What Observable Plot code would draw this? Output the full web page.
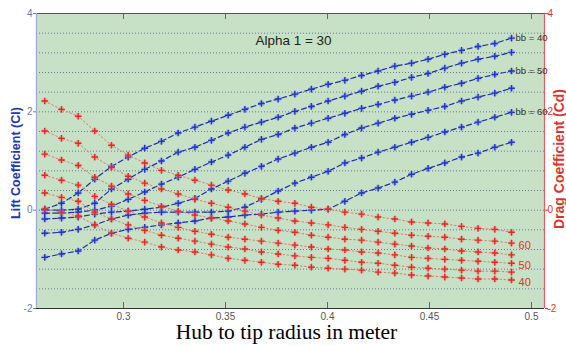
<!DOCTYPE html>
<html><head><meta charset="utf-8">
<script src="https://cdn.jsdelivr.net/npm/d3@7"></script>
<script src="https://cdn.jsdelivr.net/npm/@observablehq/plot@0.6"></script>
<style>
html,body{margin:0;padding:0;background:#fff;}
#chart svg{display:block;}
</style></head><body><div id="chart"></div>
<script>
// ---- data ----
const radius = [0.2614,0.2696,0.2778,0.2859,0.2941,0.3023,0.3104,0.3186,0.3268,0.3350,0.3431,0.3513,0.3595,0.3676,0.3758,0.3840,0.3921,0.4003,0.4085,0.4167,0.4248,0.4330,0.4412,0.4493,0.4575,0.4657,0.4738,0.4820,0.4902];
const bbValues = [40, 45, 50, 55, 60, 65];

const liftBb40 = [0.02,0.14,0.35,0.63,0.89,1.08,1.26,1.40,1.57,1.69,1.81,1.93,2.05,2.17,2.26,2.36,2.46,2.56,2.64,2.74,2.83,2.93,2.99,3.07,3.17,3.25,3.33,3.39,3.50];
const liftBb45 = [0.00,0.00,0.02,0.14,0.43,0.63,0.83,1.00,1.18,1.28,1.42,1.57,1.69,1.79,1.89,2.01,2.11,2.22,2.32,2.42,2.52,2.60,2.70,2.78,2.89,2.99,3.07,3.13,3.21];
const liftBb50 = [-0.06,-0.06,-0.04,0.00,0.08,0.22,0.37,0.53,0.67,0.83,0.98,1.12,1.28,1.44,1.54,1.67,1.77,1.87,1.97,2.07,2.15,2.24,2.32,2.40,2.50,2.58,2.68,2.76,2.83];
const liftBb55 = [-0.18,-0.16,-0.14,-0.08,-0.04,-0.02,0.02,0.06,0.14,0.24,0.43,0.59,0.75,0.89,1.04,1.16,1.28,1.38,1.54,1.67,1.77,1.87,1.95,2.03,2.11,2.22,2.30,2.38,2.48];
const liftBb60 = [-0.47,-0.45,-0.39,-0.30,-0.18,-0.10,-0.06,-0.04,-0.04,-0.04,-0.04,-0.02,0.06,0.22,0.39,0.55,0.67,0.79,0.96,1.06,1.18,1.28,1.38,1.48,1.59,1.69,1.79,1.89,1.99];
const liftBb65 = [-0.96,-0.89,-0.83,-0.61,-0.47,-0.39,-0.35,-0.30,-0.26,-0.22,-0.16,-0.14,-0.10,-0.08,-0.04,-0.02,0.00,0.02,0.18,0.35,0.45,0.57,0.73,0.85,0.96,1.08,1.16,1.28,1.38];

const dragBb40 = [0.02,-0.04,-0.12,-0.30,-0.47,-0.57,-0.65,-0.75,-0.81,-0.85,-0.91,-0.98,-1.02,-1.06,-1.10,-1.12,-1.16,-1.18,-1.20,-1.22,-1.26,-1.28,-1.32,-1.34,-1.36,-1.38,-1.40,-1.40,-1.42];
const dragBb45 = [0.35,0.26,0.18,-0.04,-0.18,-0.30,-0.41,-0.51,-0.57,-0.63,-0.69,-0.75,-0.79,-0.85,-0.89,-0.93,-0.96,-0.98,-1.02,-1.06,-1.08,-1.12,-1.16,-1.18,-1.20,-1.22,-1.24,-1.24,-1.26];
const dragBb50 = [0.71,0.61,0.51,0.28,0.12,-0.02,-0.14,-0.26,-0.35,-0.43,-0.49,-0.55,-0.59,-0.63,-0.67,-0.71,-0.75,-0.79,-0.81,-0.85,-0.87,-0.91,-0.96,-0.98,-1.00,-1.02,-1.04,-1.06,-1.08];
const dragBb55 = [1.14,1.02,0.91,0.67,0.49,0.33,0.20,0.08,-0.02,-0.10,-0.16,-0.22,-0.28,-0.35,-0.41,-0.45,-0.51,-0.55,-0.59,-0.61,-0.65,-0.69,-0.73,-0.77,-0.79,-0.83,-0.85,-0.87,-0.91];
const dragBb60 = [1.61,1.46,1.36,1.08,0.87,0.69,0.55,0.43,0.33,0.22,0.14,0.06,-0.02,-0.10,-0.16,-0.22,-0.26,-0.30,-0.35,-0.39,-0.43,-0.47,-0.51,-0.53,-0.55,-0.59,-0.61,-0.63,-0.67];
const dragBb65 = [2.22,2.05,1.91,1.61,1.32,1.12,0.96,0.81,0.71,0.61,0.51,0.41,0.33,0.24,0.18,0.14,0.06,0.02,-0.04,-0.08,-0.14,-0.18,-0.24,-0.26,-0.28,-0.33,-0.37,-0.39,-0.45];

const liftLabelBb = [40, 50, 60];
const liftLabelText = ["bb = 40", "bb = 50", "bb = 60"];
const dragLabelBb = [60, 50, 40];
const dragLabelText = ["60", "50", "40"];

const xTicks = [0.3, 0.35, 0.4, 0.45, 0.5];
const xTickLabels = ["0.3", "0.35", "0.4", "0.45", "0.5"];
const yTicks = [-2, 0, 2, 4];
const yTickLabels = ["-2", "0", "2", "4"];
const gridY = [-1.6, -1.2, -0.8, -0.4, 0, 0.4, 0.8, 1.2, 1.6, 2.0, 2.4, 2.8, 3.2, 3.6];
const xDomain = [0.25735, 0.50637];
const yDomain = [-2, 4];

const title = "Alpha 1 = 30";
const xLabel = "Hub to tip radius in meter";
const yLabelLeft = "Lift Coefficient (Cl)";
const yLabelRight = "Drag Coefficient (Cd)";

// ---- build tables ----
const liftSeries = [liftBb40, liftBb45, liftBb50, liftBb55, liftBb60, liftBb65];
const dragSeries = [dragBb40, dragBb45, dragBb50, dragBb55, dragBb60, dragBb65];
const lift = bbValues.flatMap((bb, k) => radius.map((r, i) => ({bb, r, v: liftSeries[k][i]})));
const drag = bbValues.flatMap((bb, k) => radius.map((r, i) => ({bb, r, v: dragSeries[k][i]})));
const last = radius.length - 1;
const liftLabels = liftLabelBb.map((bb, j) => ({r: radius[last], v: liftSeries[bbValues.indexOf(bb)][last], t: liftLabelText[j]}));
const dragLabels = dragLabelBb.map((bb, j) => ({r: radius[last], v: dragSeries[bbValues.indexOf(bb)][last], t: dragLabelText[j]}));

const sans = "'Liberation Sans Narrow', 'Arial Narrow', 'Liberation Sans', Arial, sans-serif";
const BLUE = "#1f2ea6", RED = "#d9352c";

const chart = Plot.plot({
  width: 566, height: 346,
  marginLeft: 36, marginRight: 22, marginTop: 13, marginBottom: 38,
  x: {domain: xDomain},
  y: {domain: yDomain},
  style: {background: "#fff", fontFamily: sans, overflow: "visible"},
  marks: [
    Plot.frame({fill: "#c6e1c6", stroke: "none"}),
    Plot.ruleY(gridY, {stroke: "#4f5f86", strokeWidth: 0.8, strokeDasharray: "1,2"}),
    // frame edges
    Plot.ruleY([yDomain[1]], {stroke: "#555", strokeWidth: 1.2}),
    Plot.ruleY([yDomain[0]], {stroke: "#333", strokeWidth: 1.2}),
    Plot.ruleX([xDomain[0]], {stroke: "#9fb0dc", strokeWidth: 1.4}),
    Plot.ruleX([xDomain[1]], {stroke: "#e06060", strokeWidth: 1.2}),
    // inward x ticks
    Plot.tickX(xTicks, {x: d => d, insetTop: 289, stroke: "#666"}),
    Plot.tickX(xTicks, {x: d => d, insetBottom: 289, stroke: "#666"}),
    // axes
    Plot.axisX({ticks: xTicks, tickFormat: d => xTickLabels[xTicks.indexOf(d)], tickSize: 0, tickPadding: 4, fontSize: 10, color: "#555", label: null}),
    Plot.axisY({anchor: "left", ticks: yTicks, tickFormat: d => yTickLabels[yTicks.indexOf(d)], tickSize: 3, tickPadding: 1, fontSize: 10, color: "#6a78ac", label: null}),
    Plot.axisY({anchor: "right", ticks: yTicks, tickFormat: d => yTickLabels[yTicks.indexOf(d)], tickSize: 3, tickPadding: 0, fontSize: 10, color: RED, label: null}),
    // lift (blue)
    Plot.line(lift, {x: "r", y: "v", z: "bb", stroke: BLUE, strokeWidth: 1.2, strokeDasharray: "5,3"}),
    Plot.dot(lift, {x: "r", y: "v", r: 3, fill: "#7d8ce6", fillOpacity: 0.45, stroke: "none"}),
    Plot.dot(lift, {x: "r", y: "v", symbol: "plus", r: 2.3, stroke: "#2234c8", strokeWidth: 1.4}),
    // drag (red)
    Plot.line(drag, {x: "r", y: "v", z: "bb", stroke: "#d6806a", strokeWidth: 1, strokeDasharray: "1.5,2.5"}),
    Plot.dot(drag, {x: "r", y: "v", r: 3, fill: "#f08a80", fillOpacity: 0.5, stroke: "none"}),
    Plot.dot(drag, {x: "r", y: "v", symbol: "plus", r: 2.3, stroke: "#e02a22", strokeWidth: 1.4}),
    // labels
    Plot.text(liftLabels, {x: "r", y: "v", text: "t", dx: 4, textAnchor: "start", fontSize: 9.5, fill: "#333"}),
    Plot.text(dragLabels, {x: "r", y: "v", text: "t", dx: 7, dy: 2, textAnchor: "start", fontSize: 11, fill: RED}),
    Plot.text([title], {text: d => d, frameAnchor: "top", lineAnchor: "middle", dx: 3, dy: 27, fontSize: 13.5, fill: "#222"}),
    Plot.text([xLabel], {text: d => d, frameAnchor: "bottom", lineAnchor: "middle", textAnchor: "middle", dx: -4, dy: 24, fontSize: 21.5, fontFamily: "'Liberation Serif', 'Times New Roman', serif", fill: "#000"}),
    Plot.text([yLabelLeft], {text: d => d, frameAnchor: "left", textAnchor: "middle", lineAnchor: "middle", rotate: -90, dx: -21, dy: 2, fontSize: 12.5, fontWeight: "bold", fontFamily: "'Liberation Sans', Arial, sans-serif", fill: "#2236b0"}),
    Plot.text([yLabelRight], {text: d => d, frameAnchor: "right", textAnchor: "middle", lineAnchor: "middle", rotate: -90, dx: 15, dy: -2, fontSize: 14, fontWeight: "bold", fontFamily: "'Liberation Sans', Arial, sans-serif", fill: RED})
  ]
});
document.getElementById("chart").appendChild(chart);
</script>
</body></html>
